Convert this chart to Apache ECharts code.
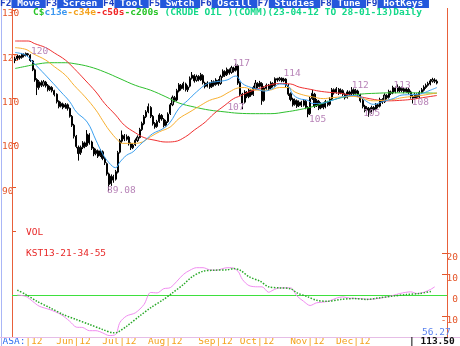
<!DOCTYPE html>
<html><head><meta charset="utf-8">
<script src="https://cdn.jsdelivr.net/npm/echarts@6/dist/echarts.min.js"></script>
<style>html,body{margin:0;padding:0;background:#fff}#c{width:460px;height:346px}</style>
</head><body><div id="c"></div>
<script>
// ---- trading days (categories) ----
const tradingDays = {
  '2012-04': [23,24,25,26,27,30],
  '2012-05': [1,2,3,4,7,8,9,10,11,14,15,16,17,18,21,22,23,24,25,29,30,31],
  '2012-06': [1,4,5,6,7,8,11,12,13,14,15,18,19,20,21,22,25,26,27,28,29],
  '2012-07': [2,3,5,6,9,10,11,12,13,16,17,18,19,20,23,24,25,26,27,30,31],
  '2012-08': [1,2,3,6,7,8,9,10,13,14,15,16,17,20,21,22,23,24,27,28,29,30,31],
  '2012-09': [4,5,6,7,10,11,12,13,14,17,18,19,20,21,24,25,26,27,28],
  '2012-10': [1,2,3,4,5,8,9,10,11,12,15,16,17,18,19,22,23,24,25,26,29,30,31],
  '2012-11': [1,2,5,6,7,8,9,12,13,14,15,16,19,20,21,23,26,27,28,29,30],
  '2012-12': [3,4,5,6,7,10,11,12,13,14,17,18,19,20,21,24,26,27,28,31],
  '2013-01': [2,3,4,7,8,9,10,11,14,15,16,17,18,22,23,24,25,28]
};
const dates = [];
Object.keys(tradingDays).forEach(m => tradingDays[m].forEach(d => dates.push(m + '-' + (d < 10 ? '0' + d : d))));

// ---- month tick labels ----
const monthLabels = ['{b|ASA:}{o||12 }','{o|Jun|12}','{o|Jul|12}','{o|Aug|12}','{o|Sep|12}','{o|Oct|12}','{o|Nov|12}','{o|Dec|12}'];
const monthDates = ['2012-05-01','2012-06-01','2012-07-02','2012-08-01','2012-09-04','2012-10-01','2012-11-01','2012-12-03'];

// ---- price candles ----
const opens = [118.6,119.0,119.6,119.3,120.0,119.8,120.1,119.8,118.5,116.5,
114.3,112.5,113.6,113.0,113.7,113.0,112.0,112.5,111.8,111.0,
109.4,108.3,108.8,108.1,108.6,107.8,106.0,104.0,101.5,99.0,
97.8,99.0,100.0,99.4,101.8,100.2,98.8,97.6,98.2,97.1,
98.0,96.5,95.3,93.0,90.8,92.4,91.8,93.4,97.9,100.4,
101.6,100.8,101.3,99.8,98.9,99.6,100.5,101.2,103.0,104.3,
105.9,107.0,108.0,106.0,104.4,103.7,104.8,106.2,105.3,104.0,
104.8,106.6,108.6,110.2,109.7,111.7,113.0,112.3,113.3,112.0,
112.8,114.6,115.2,114.1,115.0,114.2,115.2,113.5,112.8,113.4,
112.7,113.8,113.2,114.1,113.4,115.0,116.1,115.4,116.5,115.9,
116.9,116.4,117.4,113.6,111.0,109.2,111.4,110.4,111.8,110.9,
112.3,113.4,112.8,113.4,109.6,112.3,113.0,112.4,113.4,113.0,
114.5,114.2,114.6,114.0,114.4,113.0,111.1,109.9,108.7,109.5,
108.4,109.2,108.5,109.4,108.0,106.6,110.0,111.0,108.4,109.4,
107.9,108.8,108.1,109.2,108.7,109.9,112.0,111.4,112.1,111.3,
111.8,111.0,110.3,111.5,111.1,112.0,111.2,111.7,110.8,109.6,
108.3,107.4,107.8,106.9,108.0,107.6,108.6,108.3,109.8,109.3,
110.7,110.3,111.5,111.3,112.4,111.7,112.5,111.8,112.2,111.6,
112.1,111.5,110.5,110.1,110.9,110.4,111.4,111.9,112.5,113.0,
113.3,113.9,114.2,113.9];
const highs = [119.4,119.9,119.8,120.3,120.2,120.4,120.3,120.0,118.7,116.8,
114.6,114.2,114.1,114.2,114.0,113.3,112.9,112.8,112.0,111.2,
109.6,109.3,109.1,109.0,108.9,108.0,106.3,104.3,101.8,99.4,
99.4,100.4,100.3,102.9,102.2,100.5,99.1,98.7,98.5,98.6,
98.3,96.8,95.6,93.3,92.9,92.8,93.9,98.2,100.9,102.8,
102.0,101.9,101.6,100.1,99.9,101.0,101.7,103.4,104.8,106.3,
107.4,108.9,108.3,106.3,104.7,105.2,106.7,106.5,105.6,105.2,
106.9,109.0,110.7,110.6,112.2,113.5,113.3,113.8,113.6,113.0,
115.0,116.0,115.5,115.4,115.3,115.8,115.5,113.8,113.9,113.7,
114.2,114.1,114.6,114.4,115.4,116.6,116.4,117.0,116.8,117.4,
117.2,117.9,117.7,113.9,111.3,111.9,111.7,112.3,112.1,112.9,
114.2,113.7,114.0,113.7,112.8,113.4,113.3,113.9,113.7,114.8,
114.7,114.9,114.8,114.7,114.6,113.3,111.4,110.2,110.0,109.8,
109.6,109.5,109.9,109.7,108.3,110.4,112.0,111.3,109.9,109.7,
109.2,109.1,109.7,109.5,110.3,112.4,112.3,112.6,112.4,112.3,
112.1,111.3,111.9,111.8,112.6,112.3,112.2,112.0,111.1,109.9,
108.6,108.3,108.1,108.4,108.3,109.0,108.9,110.2,110.1,111.2,
111.0,112.0,111.8,112.9,112.7,113.2,112.8,112.7,112.5,112.6,
112.4,111.8,110.8,111.3,111.2,111.8,112.4,113.0,113.4,113.8,
114.4,114.7,114.6,114.3];
const lows = [118.0,118.7,118.8,119.0,119.3,119.5,119.5,118.3,116.2,113.8,
110.8,112.0,112.6,112.7,112.5,111.6,111.7,111.4,110.5,108.9,
107.8,108.0,107.6,107.7,107.3,105.7,103.6,101.0,98.8,96.0,
97.3,98.6,98.8,99.1,99.6,98.4,97.0,97.2,96.6,96.8,
96.1,95.0,92.6,89.08,90.3,91.0,91.5,93.1,97.6,100.0,
100.4,100.5,99.4,98.4,98.6,99.3,100.2,101.0,102.7,104.0,
105.6,106.7,105.6,103.9,103.2,103.4,104.5,105.0,103.5,103.7,
104.5,106.3,108.3,109.2,109.4,111.4,111.8,112.0,111.6,111.5,
112.5,114.3,113.6,113.8,113.9,114.0,113.2,112.3,112.5,112.2,
112.4,112.7,112.9,112.9,113.1,114.7,114.9,115.1,115.4,115.6,
115.9,116.1,113.1,110.6,107.6,108.9,110.1,110.1,110.4,110.6,
112.0,112.3,112.5,108.6,109.3,112.0,111.8,112.1,112.5,112.7,
113.8,113.9,113.7,113.7,112.6,110.6,109.4,108.2,108.4,107.9,
108.1,108.1,108.2,107.6,105.8,106.3,109.7,107.9,108.1,107.4,
107.6,107.6,107.8,108.2,108.4,109.6,110.9,111.1,110.8,111.0,
110.6,109.8,110.0,110.6,110.8,110.7,110.9,110.4,109.1,107.8,
106.9,107.1,105.9,106.6,107.1,107.3,107.8,108.0,108.8,109.0,
109.8,110.0,110.8,111.0,111.2,111.4,111.4,111.5,111.2,111.3,
111.0,110.0,108.9,109.8,109.9,110.1,111.1,111.6,112.2,112.7,
113.0,113.6,113.5,113.2];
const closes = [119.0,119.6,119.2,120.0,119.7,120.2,119.9,118.6,116.5,114.2,
112.5,113.8,113.0,113.8,112.9,112.0,112.6,111.8,110.9,109.3,
108.2,108.9,108.0,108.6,107.8,106.0,104.0,101.5,99.2,97.6,
99.0,100.0,99.2,102.0,100.0,98.8,97.5,98.3,97.0,98.2,
96.5,95.5,93.0,90.6,92.5,91.6,93.5,97.8,100.5,101.8,
100.9,101.4,99.8,98.9,99.5,100.6,101.3,103.0,104.4,105.9,
107.0,108.2,106.0,104.3,103.6,104.8,106.3,105.4,103.9,104.8,
106.5,108.6,110.3,109.6,111.8,113.1,112.2,113.4,112.0,112.6,
114.6,115.3,114.0,115.0,114.3,115.4,113.6,112.7,113.5,112.6,
113.8,113.1,114.2,113.3,115.0,116.2,115.3,116.6,115.8,117.0,
116.3,117.5,113.5,111.0,109.0,111.5,110.5,111.9,110.8,112.5,
113.5,112.7,113.6,109.5,112.4,113.0,112.2,113.5,112.9,114.5,
114.2,114.6,114.0,114.4,113.0,111.0,109.8,108.6,109.6,108.3,
109.2,108.5,109.5,108.0,106.5,110.0,111.2,108.3,109.5,107.8,
108.8,108.0,109.3,108.6,109.9,112.0,111.3,112.2,111.2,111.9,
111.0,110.2,111.5,111.0,112.0,111.1,111.8,110.8,109.5,108.2,
107.3,107.9,106.8,108.0,107.5,108.6,108.2,109.8,109.2,110.8,
110.2,111.6,111.2,112.5,111.6,112.6,111.8,112.3,111.6,112.2,
111.4,110.4,110.0,110.9,110.3,111.4,112.0,112.6,113.0,113.4,
114.0,114.3,113.9,113.5];

// ---- moving averages: [dayIndex, value] ----
const ema13 = [[0,120.4],[5,119.8],[8,118.3],[11,116.8],[16,114.2],[21,111.5],[25,109.3],[28,107],[33,104.7],[37,100.6],[40,97.6],[43,95.5],[46,94.4],[48,95.7],[51,97.2],[54,98],[57,99.5],[60,100.8],[63,102.1],[68,103.3],[71,104.7],[75,107.8],[79,109.6],[83,111.5],[88,113.4],[92,113.8],[97,114.2],[101,115.1],[102,114.8],[104,113.4],[108,112.5],[111,112.1],[114,111.7],[118,112.3],[121,113.3],[125,112.8],[127,111],[130,110],[134,109.6],[136,108.9],[141,109],[145,109.6],[150,110.4],[155,110.7],[158,110.4],[161,109.3],[164,108.7],[168,109.3],[173,110],[177,110.8],[182,110.9],[185,111],[190,111.9],[193,112.5]];
const ema34 = [[0,121.5],[5,121.1],[8,120.2],[14,118.7],[18,117.2],[23,115.3],[27,113],[32,110.4],[37,107.4],[40,105.1],[43,102.9],[47,100.6],[49,99.9],[54,99.9],[57,100],[62,101.4],[66,102.5],[71,103.6],[75,105.5],[80,107],[85,108.5],[89,109.6],[94,110.4],[98,111.5],[102,112.4],[105,112.5],[108,112.1],[112,111.9],[116,111.9],[121,112.5],[125,112.5],[128,111.5],[132,110.8],[136,110.4],[141,110],[145,110.2],[150,110.4],[155,110.5],[159,110],[164,109.5],[168,109.6],[173,109.8],[177,110.2],[182,110.5],[187,110.8],[193,111.3]];
const sma50 = [[0,123],[6,123],[9,122.4],[14,121.5],[18,120.3],[23,118.7],[27,116.8],[32,114.2],[37,111.5],[41,108.9],[46,106.3],[50,104],[55,102.3],[59,101.2],[64,100.6],[69,100.2],[73,100.3],[78,101.4],[82,102.9],[87,104.7],[91,106.6],[96,108.5],[100,110],[103,110.6],[107,111.5],[112,112.3],[116,113],[121,113.4],[126,113.3],[130,112.6],[135,112.1],[139,111.7],[144,111.4],[149,111.2],[153,110.8],[158,110.4],[162,110],[167,109.6],[171,109.5],[176,109.6],[181,109.8],[185,110.1],[193,110.7]];
const sma200 = [[0,116.8],[5,117.3],[9,117.7],[16,118.1],[23,118.1],[27,117.9],[34,117.2],[41,116],[48,114.5],[55,113],[62,111.9],[69,110.4],[75,109],[82,108.1],[89,107.4],[96,107],[102,106.7],[110,106.6],[117,106.6],[124,107],[130,107.5],[137,108.3],[144,109.5],[151,110.4],[158,111],[165,111.2],[172,111.3],[178,111.3],[185,111.3],[193,111.2]];

// ---- KST oscillator: [dayIndex, value] ----
const kst = [[1,0],[5,-0.7],[8,-3],[11,-5.3],[16,-7],[21,-9.3],[25,-12.5],[28,-15.3],[31,-15.5],[34,-17],[37,-17],[40,-18],[43,-19.3],[46,-18.8],[48,-13],[51,-10],[55,-8.5],[59,-4.5],[62,1.2],[65,1],[68,3],[71,3.5],[74,6.5],[77,9.8],[80,11.8],[83,13],[86,13],[89,12],[92,11.8],[97,13],[99,13],[102,11.3],[104,7.4],[107,4.5],[111,3.9],[113,3.9],[116,1.3],[118,2.3],[121,3.4],[126,3.4],[129,-0.5],[132,-3],[135,-5],[138,-3.7],[143,-3.1],[147,-1.5],[150,-0.9],[153,-1.5],[158,-1.7],[162,-2.1],[167,-1.5],[170,-0.9],[173,-0.2],[176,0.7],[181,1.5],[184,0.7],[187,1.3],[190,2.6],[192,3.9]];
const kstSignal = [[1,2.3],[5,0.2],[10,-3],[16,-6.1],[22,-9.3],[28,-11.7],[34,-14],[40,-16.4],[45,-18],[47,-17.7],[51,-14.9],[57,-10],[62,-6.1],[68,-2.1],[72,1],[77,5],[81,8.7],[86,11.3],[91,11.8],[97,12],[100,12.6],[103,11.8],[107,8.7],[112,6.6],[116,3.9],[121,3.4],[126,3],[129,1],[134,-0.9],[138,-2.5],[143,-3],[149,-2.1],[155,-1.7],[161,-2.1],[167,-1.3],[173,-0.5],[179,0.2],[185,0.7],[191,1.8]];

// ---- high/low annotations ----
const marks = [[5,'high'],[43,'low'],[101,'high'],[104,'low'],[121,'high'],[134,'low'],[154,'high'],[162,'low'],[175,'high'],[182,'low']];
const markOffsets = [[5,-1],[-2,-1],[-3,0],[-15,-2],[4,-3],[1,2],[0,-2],[-6,-3],[-4,1],[-1,-1]];

const headerItems = ['F2','Move','F3','Screen','F4','Tool','F5','Swtch','F6','Oscill','F7','Studies','F8','Tune','F9','HotKeys'];
const extraValue = '56.27';

const FONT = 'DejaVu Sans Mono';
const AX = '#e4562a';
const candleData = opens.map((o, i) => [o, closes[i], lows[i], highs[i]]);
const lowest = Math.min.apply(null, lows);
const markData = marks.map((m, k) => {
  const i = m[0];
  const v = m[1] === 'high' ? highs[i] : lows[i];
  const txt = v === lowest ? v.toFixed(2) : String(Math.floor(v));
  return {coord: [dates[i], v], value: v,
    label: {formatter: txt, offset: markOffsets[k]}};
});
const toPts = arr => arr.map(p => [dates[p[0]], p[1]]);

let header = '';
for (let k = 0; k < headerItems.length; k += 2) {
  header += '{k|' + headerItems[k] + '}{w| ' + headerItems[k + 1] + ' }';
}
const titleLine = '{g|C$}{b|c13e}{o|-c34e}{r|-c50s}{g|-c200s}{m| (CRUDE OIL )(COMM)(23-04-12 TO 28-01-13)Daily}';
const txtBase = {fontFamily: FONT, fontSize: 9.5, lineHeight: 9};

const chart = echarts.init(document.getElementById('c'), null, {renderer: 'canvas'});
const option = {
  animation: false,
  backgroundColor: '#ffffff',
  title: [
    {text: header, left: 0, top: 0, padding: 0, itemGap: 0,
     textStyle: Object.assign({}, txtBase, {rich: {
       k: Object.assign({}, txtBase, {color: '#1c3fc4', height: 8, lineHeight: 8}),
       w: Object.assign({}, txtBase, {color: '#ffffff', backgroundColor: '#2458dc', height: 8, lineHeight: 8})
     }})},
    {text: titleLine, left: 33, top: 8, padding: 0,
     textStyle: Object.assign({}, txtBase, {rich: {
       g: Object.assign({}, txtBase, {color: '#28c428'}),
       b: Object.assign({}, txtBase, {color: '#3a96f0'}),
       o: Object.assign({}, txtBase, {color: '#f4a21c'}),
       r: Object.assign({}, txtBase, {color: '#f02424'}),
       m: Object.assign({}, txtBase, {color: '#14d88a'})
     }})},
    {text: 'VOL', left: 26, top: 228.5, padding: 0, textStyle: Object.assign({}, txtBase, {color: '#e82828', fontWeight: 'normal'})},
    {text: 'KST13-21-34-55', left: 26, top: 249.5, padding: 0, textStyle: Object.assign({}, txtBase, {color: '#e82828', fontWeight: 'normal'})},
    {text: extraValue, left: 422, top: 328.5, padding: 0, textStyle: Object.assign({}, txtBase, {color: '#5a82ee', fontWeight: 'normal'})},
    {text: '| ' + closes[closes.length - 1].toFixed(2), left: 409, top: 337.5, padding: 0, textStyle: Object.assign({}, txtBase, {color: '#111111', fontWeight: 'bold'})}
  ],
  grid: [
    {left: 14, width: 424, top: 10, height: 221.5, containLabel: false, outerBoundsMode: 'none'},
    {left: 14, width: 424, top: 253, height: 84, containLabel: false, outerBoundsMode: 'none'}
  ],
  xAxis: [
    {type: 'category', gridIndex: 0, data: dates, boundaryGap: true,
     axisLine: {show: false}, axisTick: {show: false}, axisLabel: {show: false}, splitLine: {show: false}},
    {type: 'category', gridIndex: 1, data: dates, boundaryGap: true,
     axisLine: {show: false}, axisTick: {show: false}, splitLine: {show: false},
     axisLabel: {show: true, margin: 0, padding: [0, 5.7, 0, 0], hideOverlap: false,
       interval: (idx, val) => monthDates.indexOf(val) >= 0,
       formatter: (val) => { const k = monthDates.indexOf(val); return k >= 0 ? monthLabels[k] : ''; },
       fontFamily: FONT, fontSize: 9.5, lineHeight: 9,
       rich: {
         b: {color: '#2f6ff0', fontFamily: FONT, fontSize: 9.5, lineHeight: 9},
         o: {color: '#f4a21c', fontFamily: FONT, fontSize: 9.5, lineHeight: 9}
       }}}
  ],
  yAxis: [
    {type: 'value', gridIndex: 0, min: 80, max: 130, interval: 10, position: 'left', offset: 2,
     axisLine: {show: false}, splitLine: {show: false},
     axisTick: {show: true, inside: true, length: 4, lineStyle: {color: AX, width: 1}},
     axisLabel: {show: true, align: 'left', verticalAlign: 'top', lineHeight: 8, margin: 10,
       color: AX, fontFamily: FONT, fontSize: 9.5,
       formatter: v => (v === 80 ? '' : String(v))}},
    {type: 'value', gridIndex: 1, min: -20, max: 20, interval: 10, position: 'right', offset: 9,
     axisLine: {show: false}, splitLine: {show: false},
     axisTick: {show: true, inside: true, length: 5, lineStyle: {color: AX, width: 1}},
     axisLabel: {show: true, align: 'right', verticalAlign: 'top', lineHeight: 9, margin: 11,
       color: AX, fontFamily: FONT, fontSize: 9.5,
       formatter: v => (v === -20 ? '' : String(v))}}
  ],
  series: [
    {type: 'candlestick', xAxisIndex: 0, yAxisIndex: 0, data: candleData, barWidth: 1.6,
     itemStyle: {color: '#9a9a9a', color0: '#111111', borderColor: '#000000', borderColor0: '#000000', borderWidth: 1},
     markPoint: {symbol: 'circle', symbolSize: 1, itemStyle: {color: 'rgba(0,0,0,0)'},
       label: {show: true, position: 'inside', align: 'left', verticalAlign: 'middle',
         color: '#b884b8', fontFamily: FONT, fontSize: 9.5},
       data: markData}},
    {type: 'line', name: 'c200s', data: toPts(sma200), smooth: 0.4, showSymbol: false, z: 3,
     lineStyle: {color: '#2ec02e', width: 1}},
    {type: 'line', name: 'c50s', data: toPts(sma50), smooth: 0.4, showSymbol: false, z: 3,
     lineStyle: {color: '#f03030', width: 1}},
    {type: 'line', name: 'c34e', data: toPts(ema34), smooth: 0.4, showSymbol: false, z: 3,
     lineStyle: {color: '#f8b030', width: 1}},
    {type: 'line', name: 'c13e', data: toPts(ema13), smooth: 0.4, showSymbol: false, z: 3,
     lineStyle: {color: '#3aa0f0', width: 1}},
    {type: 'line', name: 'KST', xAxisIndex: 1, yAxisIndex: 1, data: toPts(kst), smooth: 0.3, showSymbol: false,
     lineStyle: {color: '#f08cf0', width: 1}},
    {type: 'line', name: 'signal', xAxisIndex: 1, yAxisIndex: 1, data: toPts(kstSignal), smooth: 0.3, showSymbol: false,
     lineStyle: {color: '#28a828', width: 1.5, type: 'dotted'}}
  ]
};
chart.setOption(option);

const y0 = Math.round(chart.convertToPixel({yAxisIndex: 1}, 0)) + 0.5;
chart.setOption({graphic: [
  {type: 'line', shape: {x1: 1.5, y1: 0, x2: 1.5, y2: 346}, style: {stroke: '#a9b6f6', lineWidth: 1}, z: 0},
  {type: 'line', shape: {x1: 12.5, y1: 8, x2: 12.5, y2: 338}, style: {stroke: '#e8603a', lineWidth: 1}, z: 1},
  {type: 'line', shape: {x1: 447.5, y1: 8, x2: 447.5, y2: 338}, style: {stroke: '#e8603a', lineWidth: 1}, z: 1},
  {type: 'line', shape: {x1: 0, y1: 337.5, x2: 460, y2: 337.5}, style: {stroke: '#e6bde6', lineWidth: 1}, z: 1},
  {type: 'line', shape: {x1: 12, y1: y0, x2: 447, y2: y0}, style: {stroke: '#3ee03e', lineWidth: 1}, z: 1}
]});
</script>
</body></html>
